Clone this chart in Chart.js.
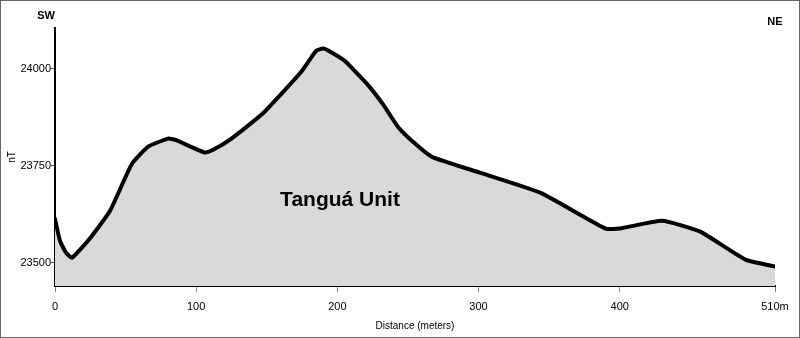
<!DOCTYPE html>
<html>
<head>
<meta charset="utf-8">
<script src="https://cdn.jsdelivr.net/npm/chart.js@4/dist/chart.umd.min.js"></script>
<style>
  html, body { margin: 0; padding: 0; background: #fff; }
  #wrap { width: 800px; height: 338px; }
</style>
</head>
<body>
<div id="wrap"><canvas id="profileChart" width="800" height="338"></canvas></div>
<script>
// magnetic profile SW -> NE
const distances = [0, 3.5, 7.8, 12, 25, 39, 54.5, 66, 80, 85, 106, 112, 125, 147, 161, 175, 185, 190, 195, 205, 221, 232, 243, 255, 267, 301, 344, 390, 400, 430, 457, 489, 510];
const fieldValues = [23613, 23557, 23526, 23513, 23564, 23634, 23755, 23799, 23820, 23817, 23784, 23791, 23820, 23884, 23938, 23995, 24046, 24052, 24044, 24021, 23961, 23910, 23850, 23807, 23773, 23732, 23680, 23588, 23588, 23608, 23580, 23508, 23490];
const xTicks = [0, 100, 200, 300, 400, 510];
const yTicks = [23500, 23750, 24000];

const points = distances.map((d, i) => ({ x: d, y: fieldValues[i] }));
const FONT = '"Liberation Sans", Arial, sans-serif';

const textPlugin = {
    id: 'profileText',
    afterDraw(chart) {
        const c = chart.ctx;
        c.save();
        c.strokeStyle = '#666';
        c.lineWidth = 1;
        c.strokeRect(0.5, 0.5, chart.width - 1, chart.height - 1);
        c.fillStyle = '#000';
        c.textBaseline = 'middle';
        c.textAlign = 'center';
        c.font = 'bold 11px ' + FONT;
        c.fillText('SW', 46, 16);
        c.fillText('NE', 775, 22);
        c.font = 'bold 21px ' + FONT;
        c.fillText('Tanguá Unit', 340, 200);
        c.restore();
    }
};

new Chart(document.getElementById('profileChart'), {
    type: 'line',
    data: {
        datasets: [{
            data: points,
            borderColor: '#000',
            borderWidth: 4,
            backgroundColor: '#d9d9d9',
            fill: 'start',
            pointRadius: 0,
            tension: 0.15,
            borderJoinStyle: 'round',
            borderCapStyle: 'round'
        }]
    },
    options: {
        responsive: false,
        animation: false,
        layout: { padding: { top: 28, right: 25, left: 0, bottom: 0 } },
        plugins: { legend: { display: false }, tooltip: { enabled: false } },
        scales: {
            x: {
                type: 'linear',
                min: 0,
                max: 510,
                afterBuildTicks(scale) { scale.ticks = xTicks.map(v => ({ value: v })); },
                afterFit(scale) { scale.height = 52; },
                grid: { drawOnChartArea: false, tickLength: 6, color: '#888' },
                border: { color: '#000', width: 2 },
                ticks: {
                    color: '#000',
                    font: { family: FONT, size: 11 },
                    padding: 8,
                    maxRotation: 0,
                    callback: v => v === 510 ? '510m' : String(v)
                },
                title: {
                    display: true,
                    text: 'Distance (meters)',
                    color: '#000',
                    font: { family: FONT, size: 10 },
                    padding: { top: 0, bottom: 6 }
                }
            },
            y: {
                min: 23440,
                max: 24105,
                afterBuildTicks(scale) { scale.ticks = yTicks.map(v => ({ value: v })); },
                afterFit(scale) { scale.width = 55; },
                grid: { drawOnChartArea: false, tickLength: 4, color: '#555' },
                border: { color: '#000', width: 2 },
                ticks: {
                    color: '#000',
                    font: { family: FONT, size: 11 },
                    padding: 0,
                    callback: v => String(v)
                },
                title: {
                    display: true,
                    text: 'nT',
                    color: '#000',
                    font: { family: FONT, size: 10 },
                    padding: { top: 6, bottom: 0 }
                }
            }
        }
    },
    plugins: [textPlugin]
});
</script>
</body>
</html>
